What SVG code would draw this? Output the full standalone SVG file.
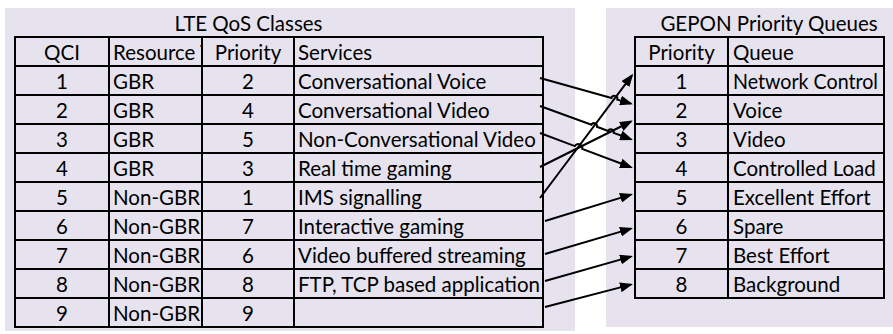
<svg xmlns="http://www.w3.org/2000/svg" width="893" height="334" viewBox="0 0 893 334">
<defs>
<style>
.panel{fill:#e6e3ef}
.cell{fill:none;stroke:#000;stroke-width:2}
.t{font-family:Lato,"Liberation Sans",sans-serif;font-size:20.5px;fill:#000}
.c{text-anchor:middle}
.conn{fill:none;stroke:#000;stroke-width:2;marker-end:url(#arr)}
</style>
<marker id="arr" markerUnits="userSpaceOnUse" markerWidth="14" markerHeight="10" refX="11" refY="5" orient="auto"><path d="M0,0 L13,5 L0,10 z" fill="#000"/></marker>
<clipPath id="clipRes"><rect x="109" y="37" width="92" height="29"/></clipPath>
</defs>
<rect class="panel" x="5" y="8" width="570" height="323"/>
<rect class="panel" x="606" y="8" width="287" height="319"/>
<g id="lte-title"><text class="t c" x="248.5" y="31">LTE QoS Classes</text></g>
<g id="gepon-title"><text class="t c" x="769" y="31">GEPON Priority Queues</text></g>
<g id="lte-header">
<rect class="cell" x="15" y="37" width="94" height="29"/><rect class="cell" x="109" y="37" width="93" height="29"/><rect class="cell" x="202" y="37" width="92" height="29"/><rect class="cell" x="294" y="37" width="249" height="29"/>
<text class="t c" x="62" y="60">QCI</text><text class="t" x="113" y="60" clip-path="url(#clipRes)">Resource T</text><text class="t c" x="248" y="60">Priority</text><text class="t" x="298" y="60">Services</text>
</g>
<g id="lte-qci1"><rect class="cell" x="15" y="66" width="94" height="29"/><rect class="cell" x="109" y="66" width="93" height="29"/><rect class="cell" x="202" y="66" width="92" height="29"/><rect class="cell" x="294" y="66" width="249" height="29"/>
<text class="t c" x="62" y="89">1</text><text class="t" x="113" y="89">GBR</text><text class="t c" x="248" y="89">2</text><text class="t" x="298" y="89">Conversational Voice</text></g>
<g id="lte-qci2"><rect class="cell" x="15" y="95" width="94" height="29"/><rect class="cell" x="109" y="95" width="93" height="29"/><rect class="cell" x="202" y="95" width="92" height="29"/><rect class="cell" x="294" y="95" width="249" height="29"/>
<text class="t c" x="62" y="118">2</text><text class="t" x="113" y="118">GBR</text><text class="t c" x="248" y="118">4</text><text class="t" x="298" y="118">Conversational Video</text></g>
<g id="lte-qci3"><rect class="cell" x="15" y="124" width="94" height="29"/><rect class="cell" x="109" y="124" width="93" height="29"/><rect class="cell" x="202" y="124" width="92" height="29"/><rect class="cell" x="294" y="124" width="249" height="29"/>
<text class="t c" x="62" y="147">3</text><text class="t" x="113" y="147">GBR</text><text class="t c" x="248" y="147">5</text><text class="t" x="298" y="147">Non-Conversational Video</text></g>
<g id="lte-qci4"><rect class="cell" x="15" y="153" width="94" height="29"/><rect class="cell" x="109" y="153" width="93" height="29"/><rect class="cell" x="202" y="153" width="92" height="29"/><rect class="cell" x="294" y="153" width="249" height="29"/>
<text class="t c" x="62" y="176">4</text><text class="t" x="113" y="176">GBR</text><text class="t c" x="248" y="176">3</text><text class="t" x="298" y="176">Real time gaming</text></g>
<g id="lte-qci5"><rect class="cell" x="15" y="182" width="94" height="29"/><rect class="cell" x="109" y="182" width="93" height="29"/><rect class="cell" x="202" y="182" width="92" height="29"/><rect class="cell" x="294" y="182" width="249" height="29"/>
<text class="t c" x="62" y="205">5</text><text class="t" x="113" y="205">Non-GBR</text><text class="t c" x="248" y="205">1</text><text class="t" x="298" y="205">IMS signalling</text></g>
<g id="lte-qci6"><rect class="cell" x="15" y="211" width="94" height="29"/><rect class="cell" x="109" y="211" width="93" height="29"/><rect class="cell" x="202" y="211" width="92" height="29"/><rect class="cell" x="294" y="211" width="249" height="29"/>
<text class="t c" x="62" y="234">6</text><text class="t" x="113" y="234">Non-GBR</text><text class="t c" x="248" y="234">7</text><text class="t" x="298" y="234">Interactive gaming</text></g>
<g id="lte-qci7"><rect class="cell" x="15" y="240" width="94" height="29"/><rect class="cell" x="109" y="240" width="93" height="29"/><rect class="cell" x="202" y="240" width="92" height="29"/><rect class="cell" x="294" y="240" width="249" height="29"/>
<text class="t c" x="62" y="263">7</text><text class="t" x="113" y="263">Non-GBR</text><text class="t c" x="248" y="263">6</text><text class="t" x="298" y="263">Video buffered streaming</text></g>
<g id="lte-qci8"><rect class="cell" x="15" y="269" width="94" height="29"/><rect class="cell" x="109" y="269" width="93" height="29"/><rect class="cell" x="202" y="269" width="92" height="29"/><rect class="cell" x="294" y="269" width="249" height="29"/>
<text class="t c" x="62" y="292">8</text><text class="t" x="113" y="292">Non-GBR</text><text class="t c" x="248" y="292">8</text><text class="t" x="298" y="292">FTP, TCP based application</text></g>
<g id="lte-qci9"><rect class="cell" x="15" y="298" width="94" height="29"/><rect class="cell" x="109" y="298" width="93" height="29"/><rect class="cell" x="202" y="298" width="92" height="29"/><rect class="cell" x="294" y="298" width="249" height="29"/>
<text class="t c" x="62" y="321">9</text><text class="t" x="113" y="321">Non-GBR</text><text class="t c" x="248" y="321">9</text></g>
<g id="gepon-header"><rect class="cell" x="635" y="37" width="93" height="29"/><rect class="cell" x="728" y="37" width="156" height="29"/>
<text class="t c" x="681.5" y="60">Priority</text><text class="t" x="733" y="60">Queue</text></g>
<g id="gepon-q1"><rect class="cell" x="635" y="66" width="93" height="29"/><rect class="cell" x="728" y="66" width="156" height="29"/>
<text class="t c" x="681.5" y="89">1</text><text class="t" x="733" y="89" textLength="145" lengthAdjust="spacingAndGlyphs">Network Control</text></g>
<g id="gepon-q2"><rect class="cell" x="635" y="95" width="93" height="29"/><rect class="cell" x="728" y="95" width="156" height="29"/>
<text class="t c" x="681.5" y="118">2</text><text class="t" x="733" y="118">Voice</text></g>
<g id="gepon-q3"><rect class="cell" x="635" y="124" width="93" height="29"/><rect class="cell" x="728" y="124" width="156" height="29"/>
<text class="t c" x="681.5" y="147">3</text><text class="t" x="733" y="147">Video</text></g>
<g id="gepon-q4"><rect class="cell" x="635" y="153" width="93" height="29"/><rect class="cell" x="728" y="153" width="156" height="29"/>
<text class="t c" x="681.5" y="176">4</text><text class="t" x="733" y="176">Controlled Load</text></g>
<g id="gepon-q5"><rect class="cell" x="635" y="182" width="93" height="29"/><rect class="cell" x="728" y="182" width="156" height="29"/>
<text class="t c" x="681.5" y="205">5</text><text class="t" x="733" y="205">Excellent Effort</text></g>
<g id="gepon-q6"><rect class="cell" x="635" y="211" width="93" height="29"/><rect class="cell" x="728" y="211" width="156" height="29"/>
<text class="t c" x="681.5" y="234">6</text><text class="t" x="733" y="234">Spare</text></g>
<g id="gepon-q7"><rect class="cell" x="635" y="240" width="93" height="29"/><rect class="cell" x="728" y="240" width="156" height="29"/>
<text class="t c" x="681.5" y="263">7</text><text class="t" x="733" y="263">Best Effort</text></g>
<g id="gepon-q8"><rect class="cell" x="635" y="269" width="93" height="29"/><rect class="cell" x="728" y="269" width="156" height="29"/>
<text class="t c" x="681.5" y="292">8</text><text class="t" x="733" y="292">Background</text></g>
<g id="connectors">
<path class="conn" d="M540,78 L611.5,98 A3,3 0 0 1 617.3,99.6 L631,103.6"/>
<path class="conn" d="M540,106 L591.4,124.8 A3,3 0 0 1 597,126.8 L608.1,130.9 A3,3 0 0 1 613.7,132.9 L631,139.3"/>
<path class="conn" d="M540,133 L574.8,146.1 A4,4 0 0 1 582.2,148.9 L631,167.3"/>
<path class="conn" d="M540,167 L631,121.5"/>
<path class="conn" d="M540,198 L632,75.3"/>
<path class="conn" d="M545,221 L631,194.6"/>
<path class="conn" d="M545,254 L631,228.6"/>
<path class="conn" d="M545,281 L631,256.6"/>
<path class="conn" d="M545,307 L631,284.6"/>
</g>
</svg>
